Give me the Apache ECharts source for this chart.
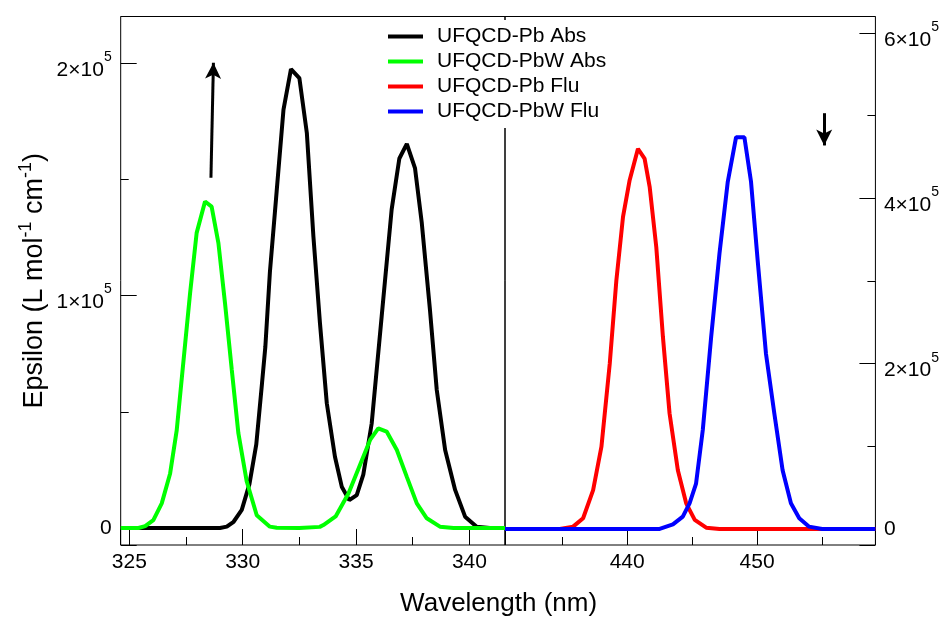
<!DOCTYPE html>
<html>
<head>
<meta charset="utf-8">
<script src="https://cdn.jsdelivr.net/npm/echarts@6/dist/echarts.min.js"></script>
<style>
  html, body { margin: 0; padding: 0; background: #fff; }
  #chart { width: 942px; height: 618px; }
</style>
</head>
<body>
<div id="chart"></div>
<script>
// absorption (left panel, nm / L mol-1 cm-1)
var wlPbAbs  = [324.62, 325.5, 326.5, 327.5, 328.5, 329.0, 329.3, 329.6, 329.96, 330.3, 330.6, 330.85, 331.0, 331.2, 331.5, 331.8, 332.13, 332.5, 332.83, 333.12, 333.41, 333.71, 334.07, 334.37, 334.7, 335.03, 335.32, 335.69, 336.13, 336.57, 336.91, 337.24, 337.6, 337.9, 338.26, 338.56, 338.93, 339.37, 339.81, 340.32, 340.9, 341.57];
var epsPbAbs = [0, 0, 0, 0, 0, 0, 600, 2700, 7800, 19000, 36000, 62000, 78000, 110000, 145000, 180000, 197500, 193600, 170000, 125400, 88000, 53700, 30700, 17800, 12000, 14200, 23000, 45000, 91000, 137000, 159000, 165300, 154900, 131200, 93900, 59400, 33600, 16400, 4900, 600, 0, 0];

var wlPbWAbs  = [324.62, 325.4, 325.7, 326.06, 326.43, 326.8, 327.09, 327.68, 327.97, 328.34, 328.63, 328.93, 329.22, 329.52, 329.81, 330.18, 330.62, 331.2, 331.5, 332.5, 333.4, 333.56, 334.1, 334.67, 335.2, 335.62, 335.98, 336.35, 336.8, 337.24, 337.68, 338.12, 338.7, 339.3, 341.57];
var epsPbWAbs = [0, 0, 800, 3400, 10600, 23500, 42000, 101000, 127000, 140500, 138300, 122600, 96800, 68000, 40800, 20000, 5500, 600, 100, 0, 500, 1300, 5000, 15000, 27800, 37900, 42900, 41500, 33600, 22000, 10600, 4200, 600, 0, 0];

// fluorescence (right panel)
var wlPbFlu  = [430.6, 434.82, 435.84, 436.61, 437.38, 438.02, 438.66, 439.17, 439.68, 440.19, 440.83, 441.34, 441.73, 442.24, 442.75, 443.26, 443.9, 444.54, 445.2, 446.08, 447.1, 459.1];
var intPbFlu = [0, 0, 2800, 13000, 47000, 99500, 200000, 301000, 377600, 422000, 460000, 448000, 414000, 341000, 232500, 140000, 71000, 31000, 11000, 1500, 0, 0];

var wlPbWFlu  = [430.6, 442.5, 443.52, 444.28, 444.8, 445.3, 445.82, 446.46, 447.1, 447.74, 448.38, 449.02, 449.53, 450.04, 450.68, 451.32, 451.96, 452.6, 453.24, 454.0, 455.0, 459.1];
var intPbWFlu = [0, 0, 5500, 15000, 31000, 55000, 120000, 232000, 333000, 420000, 474000, 474000, 420000, 325000, 212000, 140000, 71000, 31000, 13000, 2800, 0, 0];

var seriesNames = ['UFQCD-Pb Abs', 'UFQCD-PbW Abs', 'UFQCD-Pb Flu', 'UFQCD-PbW Flu'];
var seriesColors = ['#000000', '#00ff00', '#ff0000', '#0000ff'];

// arrows: [x, y] start -> end
var upArrow = [[328.60, 150700], [328.71, 200200]];
var downArrow = [[455.16, 503000], [455.16, 464000]];

function zip(xs, ys) {
  var out = [];
  for (var i = 0; i < xs.length; i++) out.push([xs[i], ys[i]]);
  return out;
}

function sciLabel(v) {
  if (v === 0) return '{z|0}';
  var m = Math.round(v / 1e5);
  return '{m|' + m + '\u00d710}{s|5}';
}

var labelRich = {
  z: { fontSize: 21, color: '#000', fontFamily: 'Liberation Sans' },
  m: { fontSize: 21, color: '#000', fontFamily: 'Liberation Sans', padding: [14, 0, 0, 0] },
  s: { fontSize: 14, color: '#000', fontFamily: 'Liberation Sans', padding: [0, 0, 12, 0] }
};

var chartDom = document.getElementById('chart');
var myChart = echarts.init(chartDom);

var tickStyle = { color: '#000', width: 1 };

var option = {
  animation: false,
  backgroundColor: '#fff',
  textStyle: { fontFamily: 'Liberation Sans' },
  grid: [
    { left: 120.7, top: 16.5, width: 384.3, height: 528.5, show: true, borderColor: '#000', borderWidth: 1, backgroundColor: 'transparent' },
    { left: 505, top: 16.5, width: 371.5, height: 528.5, show: true, borderColor: '#000', borderWidth: 1, backgroundColor: 'transparent' }
  ],
  legend: {
    orient: 'vertical',
    left: 383,
    top: 20,
    padding: [6, 10, 6, 5],
    backgroundColor: '#fff',
    itemWidth: 35,
    itemHeight: 4,
    itemGap: 4,
    icon: 'rect',
    data: seriesNames,
    textStyle: { fontSize: 21, lineHeight: 21, color: '#000', fontFamily: 'Liberation Sans', padding: [0, 0, 0, 9] }
  },
  xAxis: [
    {
      type: 'value', gridIndex: 0, min: 324.62, max: 341.57, splitNumber: 3,
      axisLine: { show: false, onZero: false },
      axisTick: { inside: true, length: 16, lineStyle: tickStyle },
      minorTick: { show: true, splitNumber: 2, length: 8, lineStyle: tickStyle },
      splitLine: { show: false },
      axisLabel: { fontSize: 21, color: '#000', margin: 7, showMinLabel: false, showMaxLabel: false },
      z: 3
    },
    {
      type: 'value', gridIndex: 1, min: 430.6, max: 459.1, splitNumber: 3,
      axisLine: { show: false, onZero: false },
      axisTick: { inside: true, length: 16, lineStyle: tickStyle },
      minorTick: { show: true, splitNumber: 2, length: 8, lineStyle: tickStyle },
      splitLine: { show: false },
      axisLabel: { fontSize: 21, color: '#000', margin: 7, showMinLabel: false, showMaxLabel: false },
      z: 3
    }
  ],
  yAxis: [
    {
      type: 'value', gridIndex: 0, min: -7300, max: 220100, splitNumber: 2,
      position: 'left',
      axisLine: { show: false, onZero: false },
      axisTick: { inside: true, length: 16, lineStyle: tickStyle },
      minorTick: { show: true, splitNumber: 2, length: 8, lineStyle: tickStyle },
      splitLine: { show: false },
      axisLabel: { formatter: sciLabel, rich: labelRich, margin: 9, showMinLabel: false, showMaxLabel: false },
      name: '{m|Epsilon (L mol}{s|-1}{m| cm}{s|-1}{m|)}',
      nameLocation: 'middle',
      nameRotate: 90,
      nameGap: 68,
      nameTextStyle: {
        rich: {
          m: { fontSize: 27, color: '#000', fontFamily: 'Liberation Sans' },
          s: { fontSize: 18, color: '#000', fontFamily: 'Liberation Sans', padding: [0, 0, 18, 0] }
        }
      },
      z: 3
    },
    {
      type: 'value', gridIndex: 1, min: -19400, max: 620000, splitNumber: 3,
      position: 'right',
      axisLine: { show: false, onZero: false },
      axisTick: { inside: true, length: 16, lineStyle: tickStyle },
      minorTick: { show: true, splitNumber: 2, length: 8, lineStyle: tickStyle },
      splitLine: { show: false },
      axisLabel: { formatter: sciLabel, rich: labelRich, margin: 8.5, showMinLabel: false, showMaxLabel: false },
      z: 3
    }
  ],
  graphic: [
    {
      type: 'text', x: 498.6, y: 604,
      style: { text: 'Wavelength (nm)', font: '26px "Liberation Sans"', fill: '#000', textAlign: 'center', textVerticalAlign: 'middle' }
    }
  ],
  series: [
    {
      name: seriesNames[0], type: 'line', xAxisIndex: 0, yAxisIndex: 0,
      data: zip(wlPbAbs, epsPbAbs), showSymbol: false, symbol: 'none',
      lineStyle: { width: 4, color: seriesColors[0] }, itemStyle: { color: seriesColors[0] },
      markLine: {
        silent: true, symbol: ['none', 'arrow'], symbolSize: [12, 16],
        label: { show: false },
        lineStyle: { color: '#000', width: 3, type: 'solid' },
        data: [[{ coord: upArrow[0] }, { coord: upArrow[1] }]]
      }
    },
    {
      name: seriesNames[1], type: 'line', xAxisIndex: 0, yAxisIndex: 0,
      data: zip(wlPbWAbs, epsPbWAbs), showSymbol: false, symbol: 'none',
      lineStyle: { width: 4, color: seriesColors[1] }, itemStyle: { color: seriesColors[1] }
    },
    {
      name: seriesNames[2], type: 'line', xAxisIndex: 1, yAxisIndex: 1,
      data: zip(wlPbFlu, intPbFlu), showSymbol: false, symbol: 'none',
      lineStyle: { width: 4, color: seriesColors[2] }, itemStyle: { color: seriesColors[2] }
    },
    {
      name: seriesNames[3], type: 'line', xAxisIndex: 1, yAxisIndex: 1,
      data: zip(wlPbWFlu, intPbWFlu), showSymbol: false, symbol: 'none',
      lineStyle: { width: 4, color: seriesColors[3] }, itemStyle: { color: seriesColors[3] },
      markLine: {
        silent: true, symbol: ['none', 'arrow'], symbolSize: [12, 16],
        label: { show: false },
        lineStyle: { color: '#000', width: 3, type: 'solid' },
        data: [[{ coord: downArrow[0] }, { coord: downArrow[1] }]]
      }
    }
  ]
};

myChart.setOption(option);
window.onresize = function () {
  myChart.resize();
};
</script>
</body>
</html>
